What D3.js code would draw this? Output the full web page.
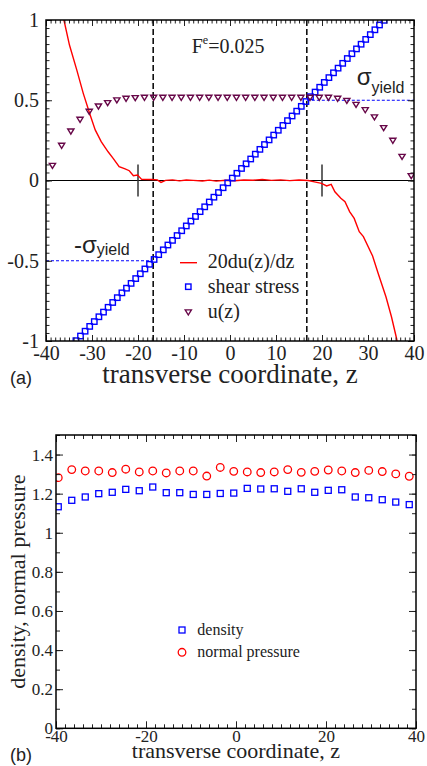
<!DOCTYPE html>
<html>
<head>
<meta charset="utf-8">
<script src="https://cdn.jsdelivr.net/npm/d3@7"></script>
<style>
  body { margin: 0; background: #fff; }
  svg { display: block; }
  svg text { font-family: 'Liberation Serif', 'Times New Roman', serif; }
  svg text.sans, svg text.sans tspan { font-family: 'Liberation Sans', Arial, sans-serif; }
</style>
</head>
<body>
<div class="chart"></div>
<script>
// ---- panel (a) data ----
const stressZ = [-33.5, -32.5, -31.5, -30.5, -29.5, -28.5, -27.5, -26.5, -25.5, -24.5, -23.5, -22.5,
  -21.5, -20.5, -19.5, -18.5, -17.5, -16.5, -15.5, -14.5, -13.5, -12.5, -11.5, -10.5, -9.5, -8.5,
  -7.5, -6.5, -5.5, -4.5, -3.5, -2.5, -1.5, -0.5, 0.5, 1.5, 2.5, 3.5, 4.5, 5.5, 6.5, 7.5, 8.5, 9.5,
  10.5, 11.5, 12.5, 13.5, 14.5, 15.5, 16.5, 17.5, 18.5, 19.5, 20.5, 21.5, 22.5, 23.5, 24.5, 25.5,
  26.5, 27.5, 28.5, 29.5, 30.5, 31.5, 32.5, 33.5]
const stressVals = [-0.998, -0.969, -0.939, -0.909, -0.879, -0.849, -0.820, -0.790, -0.760, -0.730,
  -0.700, -0.671, -0.641, -0.611, -0.581, -0.551, -0.522, -0.492, -0.462, -0.432, -0.402, -0.373,
  -0.343, -0.313, -0.283, -0.253, -0.224, -0.194, -0.164, -0.134, -0.104, -0.075, -0.045, -0.015,
  0.015, 0.045, 0.075, 0.104, 0.134, 0.164, 0.194, 0.224, 0.253, 0.283, 0.313, 0.343, 0.373, 0.402,
  0.432, 0.462, 0.492, 0.522, 0.551, 0.581, 0.611, 0.641, 0.671, 0.700, 0.730, 0.760, 0.790, 0.820,
  0.849, 0.879, 0.909, 0.939, 0.969, 0.998]

const uZ = [-38.6, -36.6, -34.6, -32.6, -30.6, -28.6, -26.6, -24.6, -22.6, -20.6, -18.6, -16.6,
  -14.6, -12.6, -10.6, -8.6, -6.6, -4.6, -2.6, -0.6, 1.4, 3.4, 5.4, 7.4, 9.4, 11.4, 13.4, 15.4,
  17.4, 19.4, 21.4, 23.4, 25.4, 27.4, 29.4, 31.4, 33.4, 35.4, 37.4, 39.4]
const uVals = [0.092, 0.217, 0.306, 0.379, 0.429, 0.462, 0.483, 0.500, 0.510, 0.514, 0.516, 0.516,
  0.516, 0.516, 0.516, 0.516, 0.516, 0.516, 0.516, 0.516, 0.516, 0.516, 0.516, 0.516, 0.516, 0.516,
  0.516, 0.516, 0.516, 0.516, 0.516, 0.510, 0.497, 0.472, 0.439, 0.394, 0.327, 0.248, 0.148, 0.028]

const gradZ = [-37.0, -36.1, -34.9, -33.3, -31.9, -30.4, -29.3, -28.0, -26.5, -25.4, -24.1, -22.8,
  -21.9, -21.0, -20.1, -19.2, -17.0, -15.8, -15.0, -14.0, -12.5, -11.0, -9.5, -8.0, -6.0, -4.5,
  -3.0, -1.0, 1.0, 3.0, 5.0, 7.0, 9.0, 11.0, 13.0, 15.0, 17.0, 18.1, 19.9, 21.0, 22.0, 22.8, 24.1,
  25.0, 26.0, 27.0, 28.1, 29.0, 31.0, 32.2, 33.9, 35.1, 36.2, 37.0]
const gradVals = [1.14, 1.00, 0.844, 0.688, 0.543, 0.408, 0.315, 0.242, 0.179, 0.138, 0.086, 0.072,
  0.061, 0.030, 0.034, 0.007, 0.006, 0.004, -0.012, 0.001, 0.004, -0.002, 0.003, 0.001, -0.003, 0.002,
  -0.004, 0.002, -0.002, 0.003, 0.002, 0.006, 0.001, 0.004, -0.001, 0.003, 0.000, -0.007, -0.018,
  -0.034, -0.024, -0.070, -0.111, -0.132, -0.194, -0.236, -0.319, -0.350, -0.470, -0.578, -0.724,
  -0.849, -0.983, -1.10]

const yieldZ = [-16.7, 16.7]
const markZ = [-20, 20]
const yieldStress = 0.5
const topXTicks = [-40, -30, -20, -10, 0, 10, 20, 30, 40]
const topYTicks = [-1, -0.5, 0, 0.5, 1]
const topYLabels = ['-1', '-0.5', '0', '0.5', '1']
const topLegend = ['20du(z)/dz', 'shear stress', 'u(z)']

// ---- panel (b) data ----
const profileZ = [-39.5, -36.5, -33.5, -30.5, -27.5, -24.5, -21.5, -18.5, -15.5, -12.5, -9.5, -6.5,
  -3.5, -0.5, 2.5, 5.5, 8.5, 11.5, 14.5, 17.5, 20.5, 23.5, 26.5, 29.5, 32.5, 35.5, 38.5]
const density = [1.133, 1.166, 1.183, 1.200, 1.207, 1.222, 1.215, 1.234, 1.205, 1.205, 1.196, 1.196,
  1.201, 1.203, 1.227, 1.224, 1.225, 1.212, 1.225, 1.207, 1.217, 1.220, 1.183, 1.179, 1.169, 1.157, 1.144]
const pressure = [1.282, 1.323, 1.316, 1.316, 1.308, 1.325, 1.311, 1.316, 1.306, 1.316, 1.316, 1.290,
  1.334, 1.314, 1.311, 1.308, 1.311, 1.323, 1.309, 1.314, 1.321, 1.316, 1.308, 1.319, 1.313, 1.301, 1.289]
const bottomXTicks = [-40, -20, 0, 20, 40]
const bottomYTicks = [0, 0.2, 0.4, 0.6, 0.8, 1, 1.2, 1.4]
const bottomYLabels = ['0', '0.2', '0.4', '0.6', '0.8', '1', '1.2', '1.4']
const bottomLegend = ['density', 'normal pressure']

const W = 427, H = 766
const RED = '#ff0000', BLUE = '#0000ff', MAROON = '#670748', INK = '#222'

const svg = d3.select('.chart').append('svg').attr('width', W).attr('height', H)

// frame with inward ticks on all four sides
function frame (x, y, o) {
  const g = svg.append('g')
  const [x0, x1] = x.range(), [y0, y1] = y.range()
  const axes = [
    [d3.axisBottom, `translate(0,${y0})`, x, o.xMajor, o.xMinor],
    [d3.axisTop, `translate(0,${y1})`, x, o.xMajor, o.xMinor],
    [d3.axisLeft, `translate(${x0},0)`, y, o.yMajor, o.yMinor],
    [d3.axisRight, `translate(${x1},0)`, y, o.yMajor, o.yMinor]
  ]
  axes.forEach(([mk, tr, sc, major, minor]) => {
    g.append('g').attr('transform', tr)
      .call(mk(sc).tickValues(minor).tickFormat('').tickSize(-o.minorLen))
      .call(s => s.select('.domain').remove())
      .call(s => s.selectAll('text').remove())
      .selectAll('line').attr('stroke', INK)
    g.append('g').attr('transform', tr)
      .call(mk(sc).tickValues(major).tickFormat('').tickSize(-o.majorLen))
      .call(s => s.select('.domain').remove())
      .call(s => s.selectAll('text').remove())
      .selectAll('line').attr('stroke', INK)
  })
  // labelled axes
  g.append('g').attr('transform', `translate(0,${y0})`)
    .call(d3.axisBottom(x).tickValues(o.xMajor).tickFormat(d => String(d)).tickSize(0).tickPadding(o.xPad))
    .call(s => s.select('.domain').remove())
    .selectAll('text').style('font-size', o.font + 'px').attr('fill', INK)
  g.append('g').attr('transform', `translate(${x0},0)`)
    .call(d3.axisLeft(y).tickValues(o.yMajor).tickFormat((d, i) => o.yLabels[i]).tickSize(0).tickPadding(o.yPad))
    .call(s => s.select('.domain').remove())
    .selectAll('text').style('font-size', o.font + 'px').attr('fill', INK)
  g.append('rect')
    .attr('x', x0).attr('y', y1).attr('width', x1 - x0).attr('height', y0 - y1)
    .attr('fill', 'none').attr('stroke', '#000').attr('stroke-width', 1.5)
}

function clipFor (id, x, y) {
  const [x0, x1] = x.range(), [y0, y1] = y.range()
  svg.append('clipPath').attr('id', id).append('rect')
    .attr('x', x0).attr('y', y1).attr('width', x1 - x0).attr('height', y0 - y1)
  return svg.append('g').attr('clip-path', `url(#${id})`)
}

const triPath = 'M-3.1,-2.4L3.1,-2.4L0,2.7Z'

// ================= panel (a) =================
const xA = d3.scaleLinear().domain([-40, 40]).range([46, 414])
const yA = d3.scaleLinear().domain([-1, 1]).range([341, 20])

const plotA = clipFor('clipA', xA, yA)

// zero line
plotA.append('line')
  .attr('x1', xA(-40)).attr('x2', xA(40)).attr('y1', yA(0)).attr('y2', yA(0))
  .attr('stroke', '#000').attr('stroke-width', 1.2)

// yield stress guides
plotA.append('line')
  .attr('x1', xA(yieldZ[1])).attr('x2', xA(40)).attr('y1', yA(yieldStress)).attr('y2', yA(yieldStress))
  .attr('stroke', BLUE).attr('stroke-width', 1).attr('stroke-dasharray', '3,2')
plotA.append('line')
  .attr('x1', xA(-40)).attr('x2', xA(yieldZ[0])).attr('y1', yA(-yieldStress)).attr('y2', yA(-yieldStress))
  .attr('stroke', BLUE).attr('stroke-width', 1).attr('stroke-dasharray', '3,2')

// yield positions
plotA.selectAll('.yieldline').data(yieldZ).enter().append('line')
  .attr('x1', d => xA(d)).attr('x2', d => xA(d)).attr('y1', yA(1)).attr('y2', yA(-1))
  .attr('stroke', '#000').attr('stroke-width', 1.5).attr('stroke-dasharray', '6,3')

// small markers at z = +-20
plotA.selectAll('.mark').data(markZ).enter().append('line')
  .attr('x1', d => xA(d)).attr('x2', d => xA(d)).attr('y1', yA(0.1)).attr('y2', yA(-0.1))
  .attr('stroke', '#333').attr('stroke-width', 1.5)

// 20 du/dz
plotA.append('path')
  .datum(gradZ.map((z, i) => [z, gradVals[i]]))
  .attr('d', d3.line().x(d => xA(d[0])).y(d => yA(d[1])))
  .attr('fill', 'none').attr('stroke', RED).attr('stroke-width', 1.4)

// shear stress
plotA.selectAll('.sq').data(stressZ).enter().append('rect')
  .attr('x', d => xA(d) - 2.7).attr('y', (d, i) => yA(stressVals[i]) - 2.7)
  .attr('width', 5.4).attr('height', 5.4)
  .attr('fill', 'none').attr('stroke', BLUE).attr('stroke-width', 1.4)

// u(z)
plotA.selectAll('.tri').data(uZ).enter().append('path')
  .attr('d', triPath)
  .attr('transform', (d, i) => `translate(${xA(d)},${yA(uVals[i])})`)
  .attr('fill', 'none').attr('stroke', MAROON).attr('stroke-width', 1.4)

frame(xA, yA, {
  xMajor: topXTicks, xMinor: d3.range(-40, 41, 1),
  yMajor: topYTicks, yMinor: d3.range(-20, 21).map(d => d * 0.05),
  yLabels: topYLabels, majorLen: 6, minorLen: 3.5, font: 20, xPad: 5, yPad: 7
})

// legend (a)
const legA = svg.append('g')
legA.append('line').attr('x1', 180).attr('x2', 197).attr('y1', 262.7).attr('y2', 262.7)
  .attr('stroke', RED).attr('stroke-width', 1.4)
legA.append('rect').attr('x', 188.3 - 2.7).attr('y', 286.7 - 2.7).attr('width', 5.4).attr('height', 5.4)
  .attr('fill', 'none').attr('stroke', BLUE).attr('stroke-width', 1.4)
legA.append('path').attr('d', triPath).attr('transform', 'translate(188.3,312.3)')
  .attr('fill', 'none').attr('stroke', MAROON).attr('stroke-width', 1.4)
legA.selectAll('text').data(topLegend).enter().append('text')
  .attr('x', 207.7).attr('y', (d, i) => 267.5 + i * 25.3)
  .style('font-size', '20px').attr('fill', INK)
  .text(d => d)

// annotations
const fe = svg.append('text').attr('x', 191.7).attr('y', 53.3).style('font-size', '20px').attr('fill', INK)
fe.append('tspan').text('F')
fe.append('tspan').style('font-size', '12px').attr('dy', -9).text('e')
fe.append('tspan').attr('dy', 9).text('=0.025')

const sy = svg.append('text').attr('class', 'sans').attr('x', 356.7).attr('y', 85).attr('fill', INK)
sy.append('tspan').style('font-size', '24px').text('σ')
sy.append('tspan').style('font-size', '16px').attr('dy', 7.5).text('yield')

const nsy = svg.append('text').attr('class', 'sans').attr('x', 74).attr('y', 253.3).attr('fill', INK)
nsy.append('tspan').style('font-size', '24px').text('-σ')
nsy.append('tspan').style('font-size', '16px').attr('dy', 2).text('yield')

svg.append('text').attr('x', xA(0)).attr('y', 383.3).attr('text-anchor', 'middle')
  .style('font-size', '27px').attr('fill', INK).text('transverse coordinate, z')
svg.append('text').attr('class', 'sans').attr('x', 10).attr('y', 384)
  .style('font-size', '18px').attr('fill', INK).text('(a)')

// ================= panel (b) =================
const xB = d3.scaleLinear().domain([-40, 40]).range([56, 416])
const yB = d3.scaleLinear().domain([0, 1.5]).range([728.3, 435])

const plotB = clipFor('clipB', xB, yB)

plotB.selectAll('.dens').data(profileZ).enter().append('rect')
  .attr('x', d => xB(d) - 3).attr('y', (d, i) => yB(density[i]) - 3)
  .attr('width', 6).attr('height', 6)
  .attr('fill', 'none').attr('stroke', BLUE).attr('stroke-width', 1.3)

plotB.selectAll('.pres').data(profileZ).enter().append('circle')
  .attr('cx', d => xB(d)).attr('cy', (d, i) => yB(pressure[i])).attr('r', 3.8)
  .attr('fill', 'none').attr('stroke', RED).attr('stroke-width', 1.3)

frame(xB, yB, {
  xMajor: bottomXTicks, xMinor: d3.range(-40, 41, 2),
  yMajor: bottomYTicks, yMinor: d3.range(0, 16).map(d => d * 0.1),
  yLabels: bottomYLabels, majorLen: 7, minorLen: 4, font: 17, xPad: 2, yPad: 3
})

// legend (b)
const legB = svg.append('g')
legB.append('rect').attr('x', 182 - 3).attr('y', 630 - 3).attr('width', 6).attr('height', 6)
  .attr('fill', 'none').attr('stroke', BLUE).attr('stroke-width', 1.3)
legB.append('circle').attr('cx', 182).attr('cy', 652.3).attr('r', 3.8)
  .attr('fill', 'none').attr('stroke', RED).attr('stroke-width', 1.3)
legB.selectAll('text').data(bottomLegend).enter().append('text')
  .attr('x', 197.3).attr('y', (d, i) => 635 + i * 21.5)
  .style('font-size', '16px').attr('fill', INK)
  .text(d => d)

svg.append('text').attr('x', xB(0)).attr('y', 758).attr('text-anchor', 'middle')
  .style('font-size', '22px').attr('fill', INK).text('transverse coordinate, z')
svg.append('text')
  .attr('transform', `translate(25,${(yB(0) + yB(1.5)) / 2}) rotate(-90)`)
  .attr('text-anchor', 'middle').style('font-size', '22px').attr('fill', INK)
  .text('density, normal pressure')
svg.append('text').attr('class', 'sans').attr('x', 10).attr('y', 761)
  .style('font-size', '18px').attr('fill', INK).text('(b)')
</script>
</body>
</html>
